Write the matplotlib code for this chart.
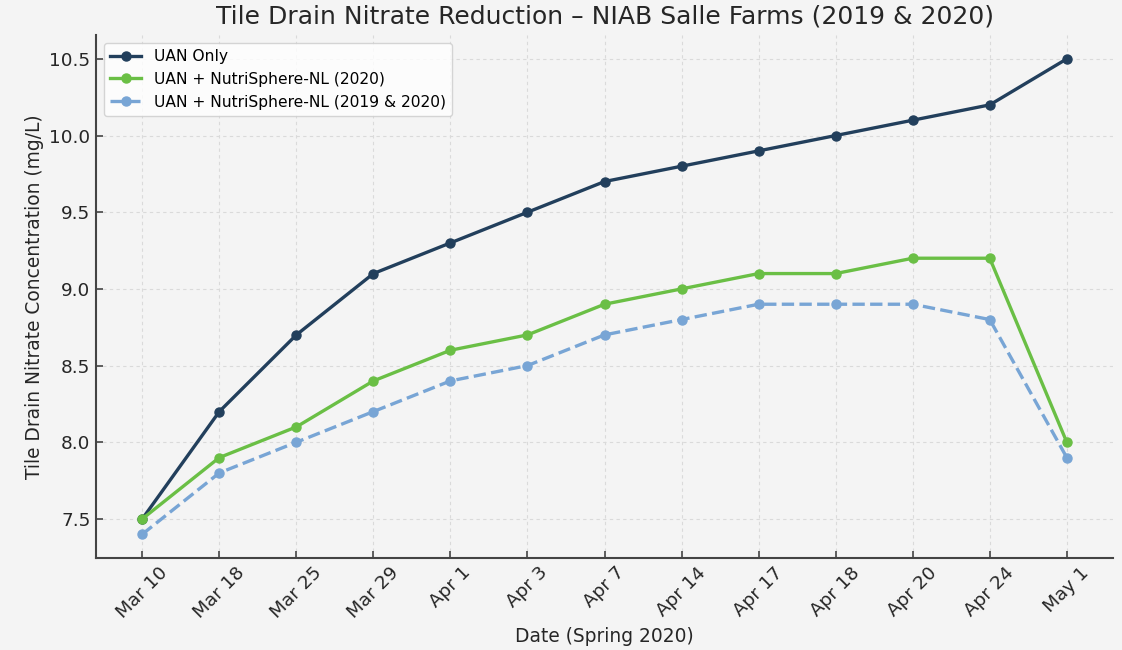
import matplotlib.pyplot as plt

plt.rcParams['font.family'] = ['DejaVu Sans']

dates = ['Mar 10', 'Mar 18', 'Mar 25', 'Mar 29', 'Apr 1', 'Apr 3', 'Apr 7',
         'Apr 14', 'Apr 17', 'Apr 18', 'Apr 20', 'Apr 24', 'May 1']
uan_only = [7.5, 8.2, 8.7, 9.1, 9.3, 9.5, 9.7, 9.8, 9.9, 10.0, 10.1, 10.2, 10.5]
uan_ns_2020 = [7.5, 7.9, 8.1, 8.4, 8.6, 8.7, 8.9, 9.0, 9.1, 9.1, 9.2, 9.2, 8.0]
uan_ns_2019_2020 = [7.4, 7.8, 8.0, 8.2, 8.4, 8.5, 8.7, 8.8, 8.9, 8.9, 8.9, 8.8, 7.9]

bg = '#f4f4f4'
fig = plt.figure(figsize=(11.22, 6.5), dpi=100, facecolor=bg)
ax = fig.add_axes([0.0856, 0.1415, 0.9064, 0.8045], facecolor=bg)

x = range(len(dates))
ax.plot(x, uan_only, color='#223f5c', marker='o', linewidth=2.4, markersize=6.5,
        label='UAN Only')
ax.plot(x, uan_ns_2020, color='#6abf45', marker='o', linewidth=2.4, markersize=6.5,
        label='UAN + NutriSphere-NL (2020)')
ax.plot(x, uan_ns_2019_2020, color='#78a5d5', marker='o', linewidth=2.4, markersize=6.5,
        linestyle='--', label='UAN + NutriSphere-NL (2019 & 2020)')

ax.set_xticks(list(x))
ax.set_xticklabels(dates, rotation=45, fontsize=13.3, color='#262626')
ax.tick_params(axis='y', labelsize=13.3, labelcolor='#262626')
ax.tick_params(direction='in', length=5, width=1.2, color='#444444', pad=4)

ax.grid(True, linestyle=(0, (3, 3)), color='#dadada', linewidth=0.8)
ax.set_axisbelow(True)
for side in ['top', 'right']:
    ax.spines[side].set_visible(False)
for side in ['left', 'bottom']:
    ax.spines[side].set_color('#444444')
    ax.spines[side].set_linewidth(1.5)

ax.set_title('Tile Drain Nitrate Reduction – NIAB Salle Farms (2019 & 2020)',
             fontsize=18, color='#262626', pad=8)
ax.set_xlabel('Date (Spring 2020)', fontsize=13.4, color='#262626')
ax.set_ylabel('Tile Drain Nitrate Concentration (mg/L)', fontsize=13.4, color='#262626')

leg = ax.legend(loc='upper left', fontsize=11.2, facecolor='white', framealpha=0.8)
leg.get_frame().set_edgecolor('#cccccc')

plt.savefig('out.png', dpi=100, facecolor=bg)
